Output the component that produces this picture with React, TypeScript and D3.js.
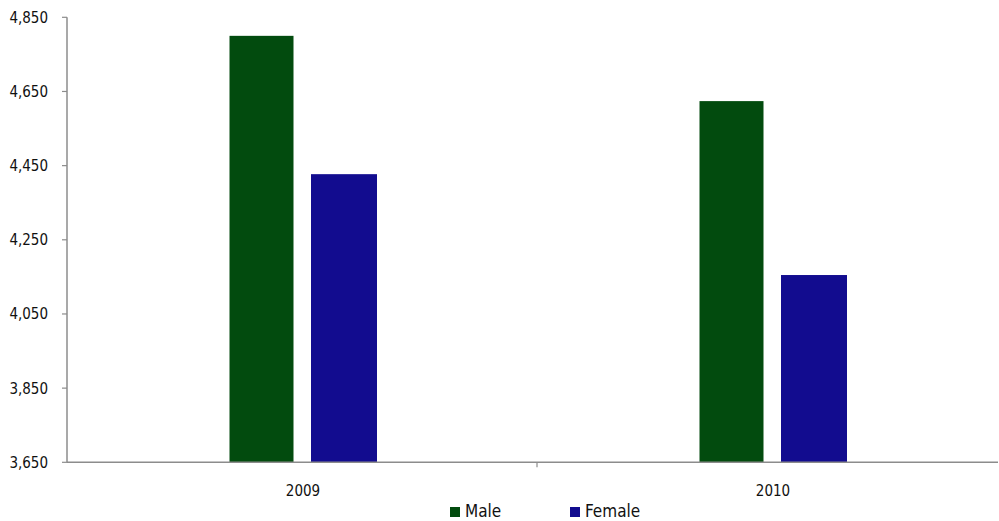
import React from "react";
import * as d3 from "d3";

const categories = ["2009", "2010"];
const seriesNames = ["Male", "Female"];
const maleValues = [4800, 4624];
const femaleValues = [4427, 4155];
const yTicks = [3650, 3850, 4050, 4250, 4450, 4650, 4850];
const colors = ["#024B0E", "#120C8F"];

const W = 999, H = 521;
const font = "'DejaVu Sans Condensed', 'DejaVu Sans', sans-serif";

export default function App() {
  const x = d3.scaleBand<string>().domain(categories).range([67, 1007]);
  const y = d3.scaleLinear().domain([3650, 4850]).range([462.3, 17.3]);
  const series = [maleValues, femaleValues];
  const barWs = [64, 66];
  const offsets = [-72.5, 9];
  const axisColor = "#8c8c8c";
  return (
    <svg width={W} height={H} style={{ position: "absolute", left: 0, top: 0, background: "#fff" }}>
      {series.map((vals, si) =>
        vals.map((v, ci) => {
          const cx = (x(categories[ci]) as number) + x.bandwidth() / 2;
          return (
            <rect
              key={`${si}-${ci}`}
              x={cx + offsets[si]}
              y={y(v)}
              width={barWs[si]}
              height={y(3650) - y(v)}
              fill={colors[si]}
            />
          );
        })
      )}
      <line x1={67} x2={67} y1={y(4850)} y2={y(3650)} stroke={axisColor} strokeWidth={1.5} />
      <line x1={67} x2={998} y1={y(3650)} y2={y(3650)} stroke={axisColor} strokeWidth={1.5} />
      {yTicks.map((t) => (
        <g key={t}>
          <line x1={62} x2={67} y1={y(t)} y2={y(t)} stroke={axisColor} strokeWidth={1.2} />
          <text x={48} y={y(t) + 5.5} textAnchor="end" fontFamily={font} fontSize={15} fill="#111">
            {d3.format(",")(t)}
          </text>
        </g>
      ))}
      {[537].map((px) => (
        <line key={px} x1={px} x2={px} y1={y(3650)} y2={y(3650) + 5} stroke={axisColor} strokeWidth={1.2} />
      ))}
      {categories.map((c) => (
        <text
          key={c}
          x={(x(c) as number) + x.bandwidth() / 2 + 1}
          y={496}
          textAnchor="middle"
          fontFamily={font}
          fontSize={15}
          fill="#111"
        >
          {c}
        </text>
      ))}
      {seriesNames.map((s, i) => (
        <g key={s} transform={`translate(${450 + i * 120},0)`}>
          <rect x={0} y={507} width={10} height={10} fill={colors[i]} />
          <text x={15} y={517} fontFamily={font} fontSize={17} fill="#111">
            {s}
          </text>
        </g>
      ))}
    </svg>
  );
}
